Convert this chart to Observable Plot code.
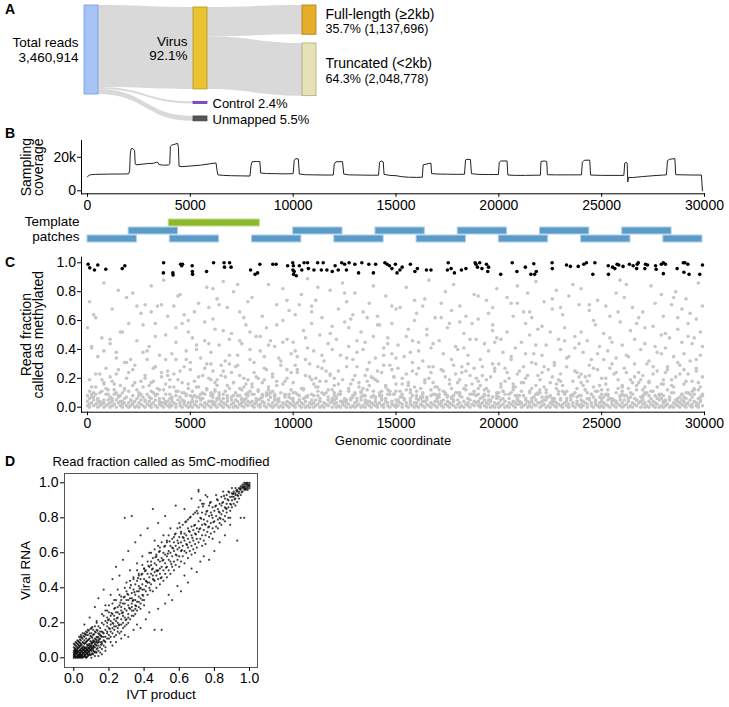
<!DOCTYPE html>
<html><head><meta charset="utf-8">
<script src="https://cdn.jsdelivr.net/npm/d3@7"></script>
<script src="https://cdn.jsdelivr.net/npm/@observablehq/plot@0.6"></script>
<style>
body{margin:0;background:#fff;}
#fig{position:relative;width:729px;height:707px;overflow:hidden;font-family:"Liberation Sans",Arial,sans-serif;color:#000;background:#fff;}
.panel{position:absolute;left:0;}
.tag{position:absolute;left:5px;font-weight:bold;font-size:14px;line-height:14px;}
</style></head><body><div id="fig"></div>
<script>
// ---------- Panel A: read flow ----------
const nodeNames = ["Total reads","Virus","Control","Unmapped","Full-length (≥2kb)","Truncated (<2kb)"];
const nodeStage = [0,1,1,1,2,2];
const nodeReads = [3460914, 3186474, 83062, 190350, 1137696, 2048778];
const nodeFill = ["#a6c3f5","#e9c430","#7c4dc6","#555555","#e6ac2a","#e5e2b5"];
const nodeStroke = ["#7799dd","#b8961f","#6a3db3","#444444","#ab7d18","#aca87f"];
const linkSource = [0,0,0,1,1];
const linkTarget = [1,2,3,4,5];

// ---------- Panel B: coverage ----------
const covPos = [0,60,150,400,800,1200,1600,2000,2050,2080,2120,2200,2290,2320,2360,2600,2900,3200,3350,3420,3480,3700,3950,4000,4030,4100,4200,4300,4380,4420,4450,4600,5000,5500,6000,6250,6300,6340,6600,7000,7500,7900,7950,8000,8200,8380,8420,8700,9200,9600,10000,10050,10120,10250,10300,10600,11000,11500,11950,12000,12080,12400,12460,12700,13200,13800,14150,14200,14280,14380,14420,14700,15000,15300,15600,16000,16280,16320,16500,16700,16730,17000,17500,18000,18330,18380,18450,18620,18670,19000,19500,19980,20020,20100,20400,20440,20800,21300,21800,22020,22050,22200,22330,22360,22800,23400,24020,24060,24150,24420,24460,25000,25600,26080,26120,26200,26240,26270,26310,26500,27000,27500,28000,28150,28200,28300,28560,28600,29000,29500,29850,29900];
const covK = [8.3,9.2,9.6,9.8,9.9,10.0,10.0,10.1,12,22,25,25.3,24,16,15.5,15.8,16.2,16.4,17.0,17.0,15.6,15.3,15.4,16,26.5,27.3,27.6,28.0,28.3,26,14.7,14.4,14.8,15.3,16.2,16.6,12,9.5,9.2,9.0,8.9,8.8,15,17.3,17.5,17.4,10.6,10.3,10.2,10.1,10.2,18,19.2,19.0,10.0,9.6,9.5,9.4,9.4,16,17.3,17.4,10,9.5,9.4,9.3,9.3,17,17.8,17.2,9.8,9.2,9.0,8.4,8.1,8.0,8.1,15.5,16.0,16.5,10.3,10.0,9.9,9.8,9.9,18.3,18.8,18.6,10.2,9.8,9.7,9.7,17,17.8,17.8,9.4,9.2,9.2,9.3,9.3,17.5,17.8,17.5,9.6,9.5,9.5,9.5,17,18.2,18.3,9.4,9.2,9.2,9.2,16.5,17.0,16.5,5.3,8.0,7.9,8.5,9.0,9.4,9.5,18,18.8,19.2,9.6,9.5,9.4,9.4,0];
const covTicks = [0, 20000];
const covTickLabels = ["0", "20k"];
const genomeTicks = [0,5000,10000,15000,20000,25000,30000];
const genomeTickLabels = ["0","5000","10000","15000","20000","25000","30000"];
const patchStart = [3950, 2000,10000,14000,18000,22000,26000, 0,4000,8000,12000,16000,20000,24000,28000];
const patchEnd   = [8380, 4400,12400,16400,20400,24400,28400, 2400,6400,10400,14400,18400,22400,26400,29900];
const patchRow   = [0, 1,1,1,1,1,1, 2,2,2,2,2,2,2,2];
const patchKind  = ["long","short","short","short","short","short","short","short","short","short","short","short","short","short","short"];
const patchLabel = ["Template", "patches"];

// ---------- Panel C: per-site methylation ----------
const fracTicks = [0,0.2,0.4,0.6,0.8,1.0];
const fracTickLabels = ["0.0","0.2","0.4","0.6","0.8","1.0"];
// [position (bp), fraction] for sites called >= 0.9
const highSites = [30,.99, 110,.965, 340,.95, 500,.985, 890,.955, 1690,.96, 1815,.98,
3700,1.0, 3690,.93, 4150,.93, 4160,.915, 4530,.99, 4580,.98, 4620,.99, 5090,.98, 5100,.94, 5110,.92,
5790,.94, 6130,1.0, 6640,1.0, 6660,.97, 6910,1.0, 6980,.97, 7930,.95, 8150,.92, 8270,.93, 8380,.99,
9010,.99, 9170,.99, 9730,.98, 9980,1.0, 10010,.98, 10020,.92, 10050,.94, 9990,.95, 10150,.91,
10300,.98, 10420,.95, 10530,1.0, 10700,1.0, 10740,.96, 11010,.95, 11190,1.0, 11370,.95, 11460,1.0, 11640,.95,
11900,.94, 12040,.98, 12190,.95, 12360,1.0, 12500,.99, 12590,.95, 12720,1.0, 13000,.99, 13180,.93, 13340,1.0,
13680,.99, 13900,.93, 14010,.99, 14460,1.0, 14570,.99, 14680,.98, 14800,.96, 14970,.99, 15050,.93, 15190,.95, 15300,.97,
15700,.99, 15920,.94, 16040,.96, 16480,.95, 16700,.95,
17500,.95, 17540,1.0, 17680,.96, 17840,.93, 18180,.95, 18400,.96,
18850,1.0, 18890,.99, 18960,.97, 19070,1.0, 19180,.96, 19400,.99, 19500,.97, 19460,.94,
20090,.92, 20650,1.0, 20880,.94, 21290,.97, 21560,.92, 21740,.92, 21820,.94,
21700,.993, 22590,1.0, 22600,.96, 23290,.985, 23480,.975, 23860,.975, 24130,.99, 24260,1.0, 24570,.92, 24670,1.0,
25320,.98, 25330,.92, 25530,.97, 25640,.96, 25750,.99, 25830,.985, 26040,.975, 26350,.99, 26530,.98,
26730,.99, 26780,1.0, 26700,.96, 27130,.99, 27230,.985, 27100,.96, 27620,.98, 27650,.955,
27900,.99, 28000,1.0, 28100,.99, 28000,.925, 28670,.96, 28970,1.0, 29050,1.0, 29190,.99, 29000,.935, 29250,.92, 29770,.92, 29900,.985];
// [position (x100 bp), fraction (%)] for the other sites
const otherSites = [
0,1,0,4,1,2,1,0,2,3,3,1,3,5,4,2,5,0,5,3,6,1,6,4,7,2,8,0,8,3,9,1,0,8,2,7,3,10,5,6,7,11,9,9,1,19,4,14,6,23,8,17,9,27,0,55,2,41,5,35,7,48,1,73,4,62,8,86,
10,2,10,5,11,0,11,3,12,1,12,4,13,2,14,0,14,5,15,3,16,1,16,4,17,0,17,2,18,3,19,1,10,9,12,6,13,12,15,8,17,10,19,7,11,21,13,16,15,26,18,13,19,20,11,44,14,38,16,52,18,31,12,68,15,81,19,76,
20,0,20,3,21,1,21,5,22,2,23,0,23,4,24,1,25,3,25,0,26,2,26,5,27,1,28,4,28,0,29,2,20,11,22,8,24,6,25,10,27,7,29,9,20,24,22,15,23,29,26,18,28,22,21,33,24,46,27,57,29,39,22,79,26,65,28,71,
30,1,30,4,31,2,31,0,32,3,33,1,33,5,34,0,35,2,35,4,36,1,37,3,37,0,38,2,39,4,39,1,30,7,32,10,33,8,35,12,37,6,38,9,31,17,32,27,34,13,36,21,39,25,30,42,33,58,35,36,38,50,31,84,34,70,37,88,39,63,
40,0,40,2,41,4,41,1,42,3,43,0,43,2,44,5,45,1,45,3,46,0,47,4,47,2,48,1,49,3,49,0,40,9,41,6,43,11,45,7,46,10,48,8,40,14,42,23,44,19,47,28,49,16,41,37,43,45,46,58,48,33,49,52,42,70,44,77,47,64,
50,1,50,3,51,0,51,5,52,2,53,1,53,4,54,0,55,2,55,5,56,1,57,3,57,0,58,2,59,4,59,1,50,8,51,11,53,7,55,9,56,6,58,12,50,26,52,18,54,14,56,22,58,30,51,48,53,40,55,34,57,59,59,44,52,66,54,72,58,83,
60,0,60,4,61,2,62,1,62,3,63,0,63,5,64,2,65,1,65,4,66,0,66,3,67,2,68,1,68,4,69,0,60,10,61,7,62,12,64,6,66,9,68,8,60,19,61,25,63,15,65,29,67,21,69,13,60,38,62,54,64,43,67,32,69,47,61,61,63,75,66,87,68,69,
70,2,70,5,71,0,71,3,72,1,73,4,73,0,74,2,75,3,75,1,76,5,76,0,77,2,78,4,78,1,79,3,70,7,72,10,74,8,75,12,77,6,79,11,71,17,72,28,74,22,76,14,78,19,70,51,73,36,75,44,77,57,79,40,71,80,74,66,78,73,
80,1,80,4,81,0,81,2,82,3,83,1,83,5,84,0,84,2,85,4,86,1,86,3,87,0,88,2,88,5,89,1,80,9,82,6,83,12,85,8,87,10,89,7,80,16,81,24,83,20,86,27,88,14,81,31,82,49,84,39,87,55,89,46,80,76,85,63,88,85,
90,0,90,3,91,1,91,5,92,2,93,0,93,4,94,1,95,3,95,0,96,2,97,4,97,1,98,0,98,3,99,2,90,11,91,8,93,6,94,10,96,7,98,9,90,21,92,15,94,29,96,18,99,24,91,42,93,34,95,60,97,47,99,37,92,71,95,82,98,67,
100,1,100,4,101,0,101,2,102,3,103,1,103,5,104,0,104,3,105,2,106,0,106,4,107,1,108,3,108,0,109,2,100,6,101,10,103,8,105,12,107,7,109,9,100,17,102,26,104,13,106,22,108,30,109,19,100,45,102,35,105,53,107,41,109,58,101,64,104,78,107,89,109,70,
110,0,110,3,111,1,111,5,112,2,113,0,113,4,114,1,115,3,115,0,116,2,117,5,117,1,118,3,119,0,119,4,110,8,112,11,113,6,115,9,117,7,119,12,111,20,112,14,114,27,116,18,118,23,110,39,113,50,115,32,117,44,119,56,111,74,114,62,118,81,
120,2,120,5,121,0,121,3,122,1,123,4,123,0,124,2,125,1,125,4,126,0,126,3,127,2,128,0,128,5,129,1,120,10,121,7,123,9,125,6,127,11,129,8,120,15,122,25,124,19,126,28,128,16,121,47,123,36,125,59,127,42,129,33,122,68,124,86,126,73,128,61,
130,0,130,3,131,1,131,4,132,2,133,0,133,5,134,1,135,3,135,0,136,2,137,4,137,1,138,0,138,3,139,2,130,9,131,6,133,11,135,8,136,12,138,7,130,22,132,17,134,13,136,26,139,20,131,38,133,52,135,45,137,31,139,49,130,79,134,66,137,72,139,84,
140,1,140,4,141,0,141,2,142,3,143,1,143,5,144,0,144,2,145,4,146,1,146,3,147,0,148,2,148,4,149,1,140,7,142,10,143,8,145,6,147,11,149,9,141,18,143,24,145,14,147,29,149,21,140,34,142,57,144,41,146,48,148,37,141,63,145,77,148,70,
150,0,150,2,151,4,151,1,152,3,153,0,153,2,154,5,155,1,155,3,156,0,157,4,157,2,158,1,159,3,159,0,150,11,152,7,153,9,155,12,157,6,158,8,150,16,151,27,153,20,156,15,158,25,151,43,154,35,156,54,158,46,159,60,152,69,155,83,159,74,
160,1,160,3,161,0,161,5,162,2,163,1,163,4,164,0,165,2,165,5,166,1,167,3,167,0,168,2,169,4,169,1,160,8,162,6,163,10,165,7,167,12,169,9,160,23,162,13,164,19,166,28,168,17,161,39,163,32,165,50,168,44,160,65,164,75,166,88,169,62,
170,0,170,4,171,2,172,1,172,3,173,0,173,5,174,2,175,1,175,4,176,0,176,3,177,2,178,1,178,4,179,0,170,6,171,9,173,11,175,8,177,7,179,10,170,14,172,26,174,21,176,16,178,29,171,46,173,37,175,55,177,33,179,42,172,72,174,80,177,67,
180,2,180,5,181,0,181,3,182,1,183,4,183,0,184,2,185,3,185,1,186,5,186,0,187,2,188,4,188,1,189,3,180,10,182,7,184,12,185,6,187,9,189,8,181,19,182,24,184,15,186,22,188,27,180,40,183,51,185,36,187,58,189,47,181,70,184,63,188,78,
190,1,190,4,191,0,191,2,192,3,193,1,193,5,194,0,194,3,195,2,196,0,196,4,197,1,198,3,198,0,199,2,190,9,191,6,193,8,195,11,197,7,199,10,190,18,192,28,194,13,196,21,198,25,191,33,193,44,195,39,197,53,199,48,190,61,194,74,197,69,199,82,
200,0,200,3,201,1,201,5,202,2,203,0,203,4,204,1,205,3,205,0,206,2,207,4,207,1,208,0,208,3,209,2,200,7,202,11,203,9,205,6,207,12,209,8,201,16,203,27,205,20,207,14,209,23,200,30,202,38,206,33,208,41,204,76,206,72,209,84,
210,2,210,4,211,0,211,3,212,1,213,5,213,2,214,0,215,3,215,1,216,4,216,0,217,2,218,5,218,1,219,3,210,8,211,11,213,6,215,10,217,7,219,9,210,25,212,17,214,22,216,13,218,30,211,45,213,58,215,50,217,37,219,54,212,66,214,79,216,62,218,87,
220,0,220,3,221,1,221,4,222,2,223,0,223,5,224,1,225,3,225,0,226,2,227,4,227,1,228,0,228,3,229,2,220,10,221,7,223,12,225,8,227,6,229,11,220,19,222,14,224,26,226,21,228,16,221,36,223,43,225,52,227,31,229,47,222,73,226,68,228,81,
230,1,230,5,231,0,231,2,232,3,233,1,233,4,234,0,234,2,235,5,236,1,236,3,237,0,238,2,238,4,239,1,230,6,232,9,233,11,235,7,237,10,239,8,230,23,231,15,233,28,236,18,238,24,230,40,232,55,234,35,237,49,239,44,231,64,234,77,236,85,239,71,
240,0,240,2,241,4,241,1,242,3,243,0,243,2,244,5,245,1,245,3,246,0,247,4,247,2,248,1,249,3,249,0,240,8,242,12,243,6,245,9,247,11,249,7,240,17,242,21,244,29,246,14,248,26,241,38,243,46,245,33,247,57,249,42,240,82,244,67,248,74,
250,1,250,4,251,0,251,3,252,2,253,1,253,5,254,0,255,2,255,4,256,1,257,3,257,0,258,2,259,5,259,1,250,9,251,7,253,12,255,6,257,10,259,8,250,20,252,16,254,27,256,23,258,13,251,51,253,39,255,45,257,34,259,59,252,70,254,63,257,79,259,88,
260,0,260,3,261,1,261,5,262,2,263,0,263,4,264,1,265,3,265,0,266,2,267,5,267,1,268,3,269,0,269,4,260,11,261,8,263,6,265,9,267,12,269,7,260,15,262,24,264,19,266,30,268,17,260,43,262,36,264,53,266,47,269,40,261,76,265,69,268,62,
270,2,270,5,271,0,271,3,272,1,273,4,273,0,274,2,275,1,275,4,276,0,276,3,277,2,278,0,278,5,279,1,270,7,272,10,273,8,275,11,277,6,279,9,270,22,271,14,273,18,275,28,277,25,279,16,271,44,273,32,275,56,277,38,279,50,270,66,274,84,276,72,279,78,
280,0,280,3,281,1,281,4,282,2,283,0,283,5,284,1,285,3,285,0,286,2,287,4,287,1,288,0,288,3,289,2,280,8,282,12,283,7,285,10,287,6,289,9,280,19,282,26,284,15,286,21,288,29,281,41,283,48,285,35,287,54,289,45,280,63,284,71,286,80,289,68,
290,1,290,4,291,0,291,2,292,3,293,1,293,5,294,0,294,2,295,4,296,1,296,3,297,0,297,2,298,4,299,1,290,7,291,10,293,9,295,12,297,6,299,8,290,16,292,23,294,18,296,27,298,14,299,21,290,37,292,49,294,44,296,33,298,52,299,42,291,75,293,65,297,86,299,70,
3,7,17,4,9,13,26,9,35,6,12,18,44,11,21,5,30,15,52,8,6,10,39,22,15,7,58,13,47,4,24,12,33,28,61,9,8,16,55,6,
67,11,72,5,80,14,64,8,91,7,86,19,77,9,99,12,70,24,84,6,95,16,103,5,74,13,89,10,107,8,62,17,93,4,111,14,82,21,98,7,
115,9,121,6,127,13,118,22,133,7,139,11,124,4,145,15,130,10,151,5,136,18,142,8,157,12,148,26,163,9,154,6,169,14,160,11,175,7,166,20,
181,10,172,4,187,16,178,8,193,12,184,25,199,6,190,13,205,9,196,5,211,17,202,11,217,7,208,14,223,10,214,4,229,19,220,12,235,8,226,6,
241,15,232,10,247,5,238,13,253,9,244,22,259,7,250,12,265,17,256,5,271,10,262,8,277,14,268,24,283,6,274,11,289,9,280,16,295,13,286,5,
292,10,298,7,4,23,19,31,37,12,46,17,57,27,68,15,79,33,88,12,101,29,113,18,126,34,137,15,149,21,158,31,171,12,182,28,194,19,206,35,
218,15,227,29,239,21,251,33,263,13,272,30,284,19,296,25,2,14,13,9,28,20,41,7,50,31,63,19,75,5,87,26,96,9,108,21,119,5,131,28,
143,11,155,23,165,6,176,19,186,9,197,30,209,6,221,24,231,11,243,18,254,6,266,21,276,8,287,31,297,17,5,5,22,26,31,11,43,33,53,14,
66,6,76,20,85,9,94,32,105,13,116,25,128,6,140,19,147,9,161,27,170,8,179,23,191,15,200,10,212,28,224,7,233,34,245,9,257,24,267,15,
279,6,288,23,294,11,10,12,27,14,36,24,48,9,59,20,69,30,78,8,92,18,102,24,114,10,122,16,135,22,146,12,156,17,167,24,177,13,189,20,
201,14,213,20,222,28,236,9,246,27,258,19,264,10,275,23,285,14,293,32,11,6,23,17,34,9,45,25,56,10,65,22,73,29,83,11,97,20,106,33,
117,12,129,19,134,8,144,29,153,16,162,7,173,25,183,13,192,22,203,18,215,11,225,17,237,25,248,11,255,30,269,19,278,9,290,26,7,19,18,12,
32,18,42,14,54,21,60,30,71,17,81,9,90,23,100,10,112,28,120,20,132,14,141,25,152,11,164,17,174,9,185,30,195,8,204,24,216,31,228,13,
240,23,249,15,261,27,270,12,281,24,291,18,299,9,1,11,14,23,25,8,38,16,49,13,62,11,73,8,85,17,97,26,110,16,123,11,138,21,150,34,
159,14,168,28,180,17,188,11,198,27,207,16,219,22,230,18,242,12,252,20,260,14,273,17,282,28,297,12,16,15,29,33,40,19,51,7,66,25,77,16,
3,64,11,47,20,58,27,38,36,71,43,55,53,43,61,82,69,36,76,62,84,49,92,57,101,39,109,66,118,51,125,79,134,40,141,57,150,68,157,38,
165,54,172,62,183,41,190,77,198,45,207,63,213,37,221,56,230,69,237,41,246,60,254,48,262,85,271,55,279,37,287,62,295,48,8,39,17,52,31,66,
45,78,57,46,66,53,73,85,88,43,97,74,106,48,114,36,127,55,136,62,146,44,155,49,163,70,176,58,186,47,195,65,204,52,218,43,226,75,240,52,
248,37,258,66,267,58,276,42,285,76,292,58,298,36,24,70,38,33,49,60,64,71,79,52,95,45,112,83,129,64,144,36,161,45,178,85,197,57,209,72,
2,42,14,34,33,49,48,39,59,69,74,46,86,35,103,71,119,40,131,46,148,58,167,41,181,59,201,47,215,66,232,46,244,71,263,35,281,51,296,61,
1,6,4,9,7,3,11,7,14,10,18,6,22,3,25,8,28,5,33,9,36,3,40,6,43,8,47,10,51,4,54,7,57,9,61,4,64,10,68,6,
71,8,75,6,78,10,82,4,85,7,88,9,92,5,96,8,99,6,102,9,106,7,109,5,112,8,116,10,119,6,122,9,126,5,129,7,133,10,136,4,
139,8,143,6,146,9,150,5,153,7,157,10,160,6,164,4,167,8,171,7,174,10,178,5,181,8,185,6,188,9,192,7,195,5,199,8,202,6,206,10,
209,5,212,8,216,6,219,10,223,7,226,4,229,9,233,6,236,8,240,5,243,10,246,7,250,6,253,8,257,4,260,9,264,7,267,5,271,9,274,6,
278,8,281,5,284,10,288,7,291,6,295,9,298,5,2,9,16,8,31,6,46,5,60,8,76,4,91,9,105,6,120,8,135,5,149,9,163,7,177,6,
193,9,208,8,222,5,238,7,252,9,266,6,280,4,294,7,8,5,38,4,63,6,87,8,113,4,140,6,168,9,190,4,218,9,244,6,270,8,289,5
];

// ---------- Panel D: IVT vs viral RNA (%, %) ----------
const unitTicks = [0,0.2,0.4,0.6,0.8,1.0];
const unitTickLabels = ["0.0","0.2","0.4","0.6","0.8","1.0"];
const ivtVsViral = [
0,0,0,1,0,2,0,3,1,0,1,1,1,2,1,4,2,0,2,1,2,3,2,5,3,0,3,2,3,1,3,4,3,6,4,0,4,1,4,3,4,5,4,7,5,1,5,2,5,4,5,6,5,0,6,2,6,3,6,5,6,8,6,1,7,0,7,3,7,4,7,6,7,9,8,2,8,5,8,7,8,1,8,10,9,3,9,4,9,6,9,8,9,11,10,2,10,5,10,7,10,9,10,12,11,4,11,6,11,10,11,13,12,3,12,8,12,11,12,15,13,5,13,9,13,12,13,16,14,7,14,10,14,14,14,18,15,6,15,11,15,13,15,17,16,8,16,12,16,15,16,20,
1,3,2,2,2,4,3,3,4,2,4,4,5,3,5,5,6,4,6,6,7,2,7,5,8,3,8,4,8,6,9,5,9,7,10,4,10,6,10,8,11,5,11,7,11,9,12,6,12,9,13,7,13,10,14,9,14,12,15,9,15,15,
0,4,1,5,2,6,3,7,4,8,5,9,6,10,7,11,3,9,5,11,7,13,9,14,4,10,6,12,8,13,10,14,11,16,12,18,13,20,
2,8,6,14,8,16,1,7,0,6,2,10,3,12,4,13,5,14,1,9,0,8,9,2,10,0,11,2,12,1,13,3,14,4,15,3,16,5,17,7,18,6,16,2,14,1,
17,10,17,14,17,19,17,24,18,12,18,16,18,21,18,27,19,11,19,18,19,23,19,15,20,13,20,17,20,22,20,26,20,30,21,15,21,19,21,24,21,9,22,14,22,20,22,25,22,31,23,16,23,22,23,18,23,28,24,13,24,21,24,26,24,33,25,17,25,23,25,29,25,20,26,19,26,25,26,30,26,36,27,15,27,22,27,27,27,33,28,20,28,26,28,31,28,24,29,18,29,28,29,35,29,40,30,22,30,27,30,33,30,38,31,25,31,30,31,36,31,20,32,28,32,34,32,40,32,44,33,24,33,31,33,37,33,29,34,27,34,33,34,39,34,46,35,30,35,36,35,42,35,25,36,32,36,38,36,44,36,50,37,29,37,35,37,41,37,47,38,34,38,40,38,45,38,31,39,36,39,42,39,48,39,53,40,33,40,39,40,45,40,51,
4,12,6,19,7,15,9,23,10,17,12,29,13,21,14,34,16,25,17,39,18,30,19,27,21,36,22,45,23,33,24,52,25,39,26,47,27,35,28,56,29,80,30,43,31,61,32,50,33,81,34,45,35,66,36,54,37,48,38,70,39,58,40,51,42,74,43,60,44,53,45,85,46,67,47,59,48,77,49,63,51,70,52,81,53,66,55,74,57,69,58,87,60,77,61,71,63,85,65,79,67,91,69,83,71,95,73,88,75,93,
18,4,22,7,24,9,27,11,29,13,31,12,34,16,36,19,38,17,41,22,43,26,46,16,48,28,50,16,52,31,54,36,56,33,59,41,61,38,63,47,65,43,67,51,70,49,72,55,74,58,77,56,80,61,83,66,86,70,89,76,93,67,95,80,97,80,
41,38,41,44,41,50,42,36,42,43,42,48,42,55,43,40,43,46,43,52,44,42,44,48,44,55,44,60,45,38,45,45,45,51,45,57,46,44,46,49,46,54,46,62,47,40,47,47,47,53,47,58,48,45,48,50,48,56,48,64,49,42,49,48,49,55,49,61,50,46,50,52,50,57,50,66,51,44,51,50,51,56,51,60,52,48,52,54,52,59,52,64,53,46,53,52,53,58,53,67,54,50,54,56,54,61,54,70,55,48,55,55,55,60,55,64,56,52,56,58,56,63,56,68,57,55,57,61,57,66,57,50,58,53,58,59,58,64,58,71,59,56,59,62,59,67,59,74,60,52,60,58,60,63,60,69,61,55,61,61,61,66,61,72,62,58,62,64,62,69,62,76,63,54,63,61,63,67,63,71,64,60,64,65,64,70,64,78,65,57,65,63,65,68,65,74,66,61,66,66,66,72,66,80,67,59,67,64,67,70,67,75,68,62,68,67,68,73,68,82,69,65,69,71,69,76,69,60,70,63,70,68,70,74,70,84,
71,66,71,72,71,78,71,86,72,68,72,74,72,80,72,90,73,64,73,70,73,76,73,83,74,67,74,73,74,79,74,88,75,70,75,76,75,82,75,65,76,72,76,78,76,84,76,92,77,69,77,75,77,81,77,87,78,71,78,77,78,83,78,89,79,74,79,80,79,86,79,68,80,72,80,78,80,84,81,75,81,81,81,87,81,93,82,74,82,79,82,85,82,90,83,77,83,83,83,88,83,80,84,76,84,82,84,87,84,92,85,79,85,84,85,89,85,95,86,81,86,86,86,91,86,78,87,83,87,88,87,93,87,85,88,80,88,86,88,90,88,95,89,84,89,88,89,92,89,80,90,86,90,90,90,94,90,97,91,88,91,92,91,95,92,87,92,91,92,94,92,97,93,89,93,93,93,96,94,91,94,94,94,97,95,93,95,96,95,98,
96,95,96,97,96,99,97,96,97,98,97,100,97,97,98,97,98,99,98,100,98,98,99,98,99,99,99,100,99,97,100,99,100,100,100,98,96,98,97,99,98,96,99,96,100,97,95,97,94,95,93,95,92,93,91,94,90,92,71,96,
16,9,17,12,18,9,19,14,20,11,21,12,22,17,23,12,24,18,25,15,26,14,27,19,28,17,29,23,30,19,31,23,32,22,33,27,34,24,35,28,36,27,37,32,38,28,39,33,40,30,19,20,21,21,23,24,25,26,27,29,29,31,31,33,33,34,35,33,37,38,39,39,41,41,43,43,45,47,47,50,49,51,
0.5,0.5,1.5,0.5,0.5,1.5,2.5,1.5,1.5,2.5,3.5,0.5,0.5,3.5,2.5,3.5,3.5,2.5,4.5,1.5,1.5,4.5,4.5,3.5,3.5,4.5,5.5,2.5,2.5,5.5,5.5,0.5,6.5,1.5,6.5,3.5,3.5,6.5,4.5,5.5,5.5,4.5,7.5,2.5,2.5,7.5,6.5,5.5,5.5,6.5,7.5,4.5,4.5,7.5,8.5,3.5,3.5,8.5,8.5,5.5,5.5,8.5,7.5,7.5,9.5,4.5,6.5,8.5,8.5,7.5,9.5,6.5,10.5,5.5,7.5,9.5,10.5,8.5,9.5,9.5,11.5,6.5,8.5,10.5,11.5,9.5,12.5,7.5,10.5,11.5,12.5,10.5,13.5,8.5,9.5,12.5,13.5,11.5,11.5,13.5,14.5,10.5,12.5,14.5,14.5,13.5,15.5,12.5,13.5,15.5,16.5,14.5,
6.5,0.5,8.5,1.5,10.5,2.5,12.5,3.5,0.5,5.5,1.5,6.5,0.5,7.5,1.5,8.5,2.5,9.5,3.5,10.5,4.5,11.5,5.5,12.5,6.5,13.5,7.5,14.5,8.5,15.5,9.5,16.5,10.5,17.5,3.5,1.5,1.5,3.5,2.5,0.5,0.5,2.5,4.5,0.5,0.5,4.5,7.5,0.5,9.5,1.5,11.5,3.5,13.5,5.5,15.5,7.5,17.5,9.5,
19.5,21.5,20.5,16.5,21.5,25.5,22.5,19.5,23.5,28.5,24.5,22.5,25.5,18.5,26.5,31.5,27.5,25.5,28.5,34.5,29.5,21.5,30.5,36.5,31.5,28.5,32.5,41.5,33.5,32.5,34.5,37.5,35.5,29.5,36.5,45.5,37.5,39.5,38.5,47.5,39.5,35.5,40.5,49.5,41.5,43.5,42.5,52.5,43.5,38.5,44.5,50.5,45.5,44.5,46.5,57.5,47.5,49.5,48.5,60.5,49.5,45.5,50.5,55.5,51.5,63.5,52.5,51.5,53.5,59.5,54.5,66.5,55.5,53.5,56.5,62.5,57.5,70.5,58.5,58.5,59.5,65.5,60.5,74.5,61.5,61.5,62.5,68.5,63.5,77.5,64.5,64.5,65.5,72.5,66.5,80.5,67.5,68.5,68.5,75.5,69.5,70.5,70.5,82.5,71.5,73.5,72.5,79.5,73.5,86.5,74.5,76.5,75.5,83.5,76.5,74.5,77.5,88.5,78.5,81.5,79.5,77.5,80.5,86.5,81.5,90.5,82.5,83.5,83.5,79.5,84.5,88.5,85.5,92.5,86.5,85.5,87.5,90.5,88.5,94.5,89.5,87.5,90.5,93.5,91.5,90.5,92.5,95.5,93.5,92.5,94.5,96.5,95.5,94.5,96.5,97.5,97.5,96.5,98.5,99.5,99.5,98.5
];

// ================= build =================
const FONT = '"Liberation Sans", Arial, sans-serif';
const fig = document.getElementById("fig");
function place(svg, top, left=0) {
  const d = document.createElement("div");
  d.className = "panel"; d.style.top = top + "px"; d.style.left = left + "px";
  d.appendChild(svg); fig.appendChild(d);
}
function tag(t, top) {
  const d = document.createElement("div"); d.className = "tag"; d.textContent = t; d.style.top = top + "px"; fig.appendChild(d);
}
const svgStyle = {fontFamily: FONT, fontSize: "14px", background: "transparent", maxWidth: "none", overflow: "visible", color: "#000"};
const lookup = (ticks, labels) => d => labels[ticks.indexOf(d)];
const TICK_FS = 14;

// ---- A ----
const total = nodeReads[0];
const nodeW = 0.1284;
const padTop = [0, 0.022, 0];
const gap = [0, 0.14, 0.098];
const nodes = nodeNames.map((name, i) => ({i, name, stage: nodeStage[i], reads: nodeReads[i], fill: nodeFill[i], stroke: nodeStroke[i]}));
for (const s of [0,1,2]) {
  let y = padTop[s];
  for (const n of nodes.filter(n => n.stage === s)) {
    n.y0 = y; n.y1 = y + n.reads / total; y = n.y1 + gap[s]; n.out = n.y0; n.in = n.y0;
  }
}
const linkPts = [];
linkSource.forEach((s, k) => {
  const S = nodes[s], T = nodes[linkTarget[k]];
  const v = T.reads / total;
  linkPts.push({k, x: S.stage + nodeW, y1: S.out, y2: S.out + v}, {k, x: T.stage, y1: T.in, y2: T.in + v});
  S.out += v; T.in += v;
});
const pct = (a, b) => (a / b * 100).toFixed(1) + "%";
const fmt = d3.format(",");
const leftLabels = [
  {n: nodes[0], t: nodes[0].name + "\n" + fmt(total)},
  {n: nodes[1], t: nodes[1].name + "\n" + pct(nodes[1].reads, total)}
];
const smallLabels = [nodes[2], nodes[3]].map(n => ({n, t: n.name + " " + pct(n.reads, total)}));
const outNodes = [nodes[4], nodes[5]];
const mid = n => (n.y0 + n.y1) / 2;

const plotA = Plot.plot({
  width: 729, height: 125, margin: 0,
  x: {domain: [0, 2], range: [84, 302], axis: null},
  y: {domain: [0, 1], range: [5, 94], axis: null},
  style: svgStyle,
  marks: [
    Plot.areaY(linkPts, {x: "x", y1: "y1", y2: "y2", z: "k", curve: "bump-x", fill: "#d9d9d9"}),
    Plot.rect(nodes, {x1: "stage", x2: d => d.stage + nodeW, y1: "y0", y2: "y1", fill: "fill", stroke: "stroke", strokeWidth: 0.8}),
    Plot.text(leftLabels, {x: d => d.n.stage, y: d => mid(d.n), text: "t", textAnchor: "end", dx: -6, lineHeight: 1.05, fontSize: 13.5}),
    Plot.text(smallLabels, {x: d => d.n.stage + nodeW, y: d => mid(d.n), text: "t", textAnchor: "start", dx: 5, dy: 1, fontSize: 13}),
    Plot.text(outNodes, {x: d => d.stage + nodeW, y: mid, text: "name", textAnchor: "start", dx: 9, dy: -6, fontSize: 14}),
    Plot.text(outNodes, {x: d => d.stage + nodeW, y: mid, text: d => pct(d.reads, nodes[1].reads) + " (" + fmt(d.reads) + ")", textAnchor: "start", dx: 9, dy: 9, fontSize: 12.5})
  ]
});
place(plotA, 0);

// ---- B coverage ----
const cov = covPos.map((p, i) => ({pos: p, cov: covK[i] * 1000}));
const plotB = Plot.plot({
  width: 729, height: 88, marginLeft: 81, marginRight: 25, marginTop: 12, marginBottom: 22.7,
  x: {domain: [0, 30000], insetLeft: 6},
  y: {domain: [0, 30000], insetBottom: 3},
  style: svgStyle,
  marks: [
    Plot.frame({anchor: "left"}),
    Plot.frame({anchor: "bottom"}),
    Plot.axisY({ticks: covTicks, tickFormat: lookup(covTicks, covTickLabels), tickSize: 4, tickPadding: 1.5, label: null, fontSize: TICK_FS}),
    Plot.axisX({ticks: genomeTicks, tickFormat: lookup(genomeTicks, genomeTickLabels), tickSize: 3.5, tickPadding: 2.5, label: null, fontSize: TICK_FS}),
    Plot.line(cov, {x: "pos", y: "cov", stroke: "#222", strokeWidth: 1}),
    Plot.text(["Sampling\ncoverage"], {frameAnchor: "left", textAnchor: "middle", lineAnchor: "middle", rotate: -90, dx: -48.5, lineHeight: 0.88, fontSize: 14})
  ]
});
place(plotB, 128);

// ---- B patches ----
const patches = patchStart.map((s, i) => ({s, e: patchEnd[i], row: patchRow[i], kind: patchKind[i]}));
const plotP = Plot.plot({
  width: 729, height: 30, marginLeft: 81, marginRight: 25, marginTop: 4, marginBottom: 3,
  x: {domain: [0, 30000], insetLeft: 6, axis: null},
  y: {domain: [0, 1, 2], paddingInner: 0.18, paddingOuter: 0, axis: null},
  color: {domain: ["long", "short"], range: ["#8cb92b", "#5c9bc7"]},
  style: svgStyle,
  marks: [
    Plot.barX(patches, {x1: "s", x2: "e", y: "row", fill: "kind", stroke: d => d.kind === "long" ? "#c4dd8c" : "#a9d1ec", strokeWidth: 1})
  ]
});
place(plotP, 215);
// label for the patches, positioned beside the bars
const plotPL = Plot.plot({
  width: 81, height: 34, margin: 0,
  x: {axis: null}, y: {axis: null},
  style: svgStyle,
  marks: [
    Plot.text([patchLabel[0]], {frameAnchor: "right", textAnchor: "end", lineAnchor: "middle", dx: -2, dy: -7.5, fontSize: 13.5}),
    Plot.text([patchLabel[1]], {frameAnchor: "right", textAnchor: "end", lineAnchor: "middle", dx: -2, dy: 7.5, fontSize: 13.5})
  ]
});
place(plotPL, 212);

// ---- C ----
const others = [];
for (let i = 0; i < otherSites.length; i += 2) others.push({pos: otherSites[i] * 100, f: otherSites[i + 1] / 100});
const highs = [];
for (let i = 0; i < highSites.length; i += 2) highs.push({pos: highSites[i], f: highSites[i + 1]});
const plotC = Plot.plot({
  width: 729, height: 200, marginLeft: 81, marginRight: 25, marginTop: 6.7, marginBottom: 38.3,
  x: {domain: [0, 30000], insetLeft: 6},
  y: {domain: [0, 1], insetTop: 5.6, insetBottom: 5},
  style: svgStyle,
  marks: [
    Plot.frame({anchor: "left"}),
    Plot.frame({anchor: "bottom"}),
    Plot.axisY({ticks: fracTicks, tickFormat: lookup(fracTicks, fracTickLabels), tickSize: 4, tickPadding: 1.5, label: null, fontSize: TICK_FS}),
    Plot.axisX({ticks: genomeTicks, tickFormat: lookup(genomeTicks, genomeTickLabels), tickSize: 3.5, tickPadding: 2.5, label: null, fontSize: TICK_FS}),
    Plot.dot(others, {x: "pos", y: "f", r: 1.8, fill: "#c6c6c6", stroke: null}),
    Plot.dot(highs, {x: "pos", y: "f", r: 1.8, fill: "#000", stroke: null}),
    Plot.text(["Read fraction\ncalled as methylated"], {frameAnchor: "left", textAnchor: "middle", lineAnchor: "middle", rotate: -90, dx: -48.5, lineHeight: 0.88, fontSize: 14}),
    Plot.text(["Genomic coordinate"], {frameAnchor: "bottom", lineAnchor: "middle", dy: 29, fontSize: 13})
  ]
});
place(plotC, 250);

// ---- D ----
const dPts = [];
for (let i = 0; i < ivtVsViral.length; i += 2) dPts.push({ivt: ivtVsViral[i] / 100, viral: ivtVsViral[i + 1] / 100});
const plotD = Plot.plot({
  width: 300, height: 257, marginLeft: 64, marginRight: 43, marginTop: 23, marginBottom: 40,
  x: {domain: [0, 1], insetLeft: 9.3, insetRight: 8},
  y: {domain: [0, 1], insetTop: 9.3, insetBottom: 9.7},
  style: svgStyle,
  marks: [
    Plot.frame({stroke: "#555"}),
    Plot.axisY({ticks: unitTicks, tickFormat: lookup(unitTicks, unitTickLabels), tickSize: 4, tickPadding: 2, label: null, fontSize: TICK_FS}),
    Plot.axisX({ticks: unitTicks, tickFormat: lookup(unitTicks, unitTickLabels), tickSize: 4, tickPadding: 2, label: null, fontSize: TICK_FS}),
    Plot.dot(dPts, {x: "ivt", y: "viral", r: 1.1, fill: "#000", fillOpacity: 0.75, stroke: null}),
    Plot.text(["Read fraction called as 5mC-modified"], {frameAnchor: "top", lineAnchor: "middle", dy: -12, fontSize: 13}),
    Plot.text(["IVT product"], {frameAnchor: "bottom", lineAnchor: "middle", dy: 27, fontSize: 13.5}),
    Plot.text(["Viral RNA"], {frameAnchor: "left", textAnchor: "middle", lineAnchor: "middle", rotate: -90, dx: -39, fontSize: 13.5})
  ]
});
place(plotD, 450);

tag("A", 1.5); tag("B", 125.5); tag("C", 254.5); tag("D", 453.5);
</script></body></html>
